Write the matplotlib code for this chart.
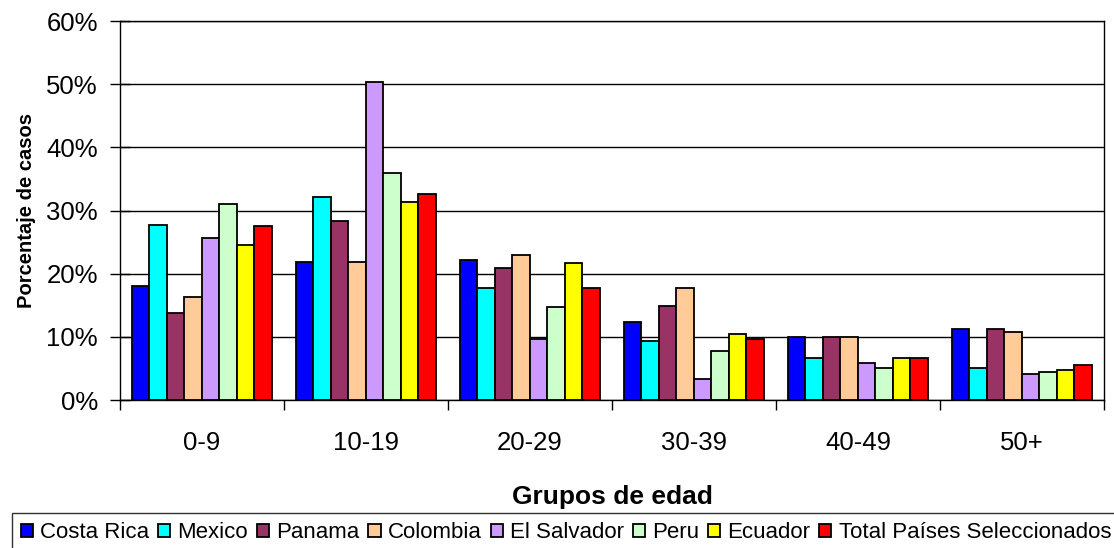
import numpy as np
import matplotlib
matplotlib.use("Agg")
import matplotlib.pyplot as plt
from matplotlib.ticker import FuncFormatter

plt.rcParams['font.family'] = ['Liberation Sans', 'DejaVu Sans']

groups = ['0-9', '10-19', '20-29', '30-39', '40-49', '50+']
series = ['Costa Rica', 'Mexico', 'Panama', 'Colombia', 'El Salvador',
          'Peru', 'Ecuador', 'Total Países Seleccionados']
colors = ['#0000FF', '#00FFFF', '#993366', '#FFCC99', '#CC99FF',
          '#CCFFCC', '#FFFF00', '#FF0000']

costa_rica = [18.1, 21.9, 22.2, 12.3, 10.0, 11.3]
mexico = [27.8, 32.1, 17.7, 9.3, 6.6, 5.0]
panama = [13.8, 28.3, 20.9, 14.9, 10.0, 11.3]
colombia = [16.3, 21.8, 23.0, 17.7, 10.0, 10.8]
el_salvador = [25.6, 50.4, 9.6, 3.4, 5.9, 4.2]
peru = [31.1, 35.9, 14.7, 7.7, 5.0, 4.5]
ecuador = [24.5, 31.3, 21.7, 10.4, 6.6, 4.8]
total = [27.5, 32.7, 17.7, 9.6, 6.6, 5.6]

values = [costa_rica, mexico, panama, colombia, el_salvador, peru, ecuador, total]

fig = plt.figure(figsize=(11.14, 5.48), dpi=100)
ax = fig.add_axes([0.1077, 0.270, 0.8833, 0.6913])

x = np.arange(len(groups))
n = len(series)
w = 0.854 / n
for i, (name, vals) in enumerate(zip(series, values)):
    ax.bar(x - 0.427 + w * (i + 0.5), vals, width=w, color=colors[i],
           edgecolor='black', linewidth=1.3, label=name, zorder=3)

ax.set_xlim(-0.5, len(groups) - 0.5)
ax.set_ylim(0, 60)
ax.set_yticks(np.arange(0, 61, 10))
ax.yaxis.set_major_formatter(FuncFormatter(lambda v, p: '%d%%' % v))
ax.grid(axis='y', color='black', linewidth=1, zorder=0)

# category ticks sit on the boundaries, labels at the centres
ax.set_xticks(np.arange(-0.5, len(groups), 1))
ax.set_xticklabels([])
ax.set_xticks(x, minor=True)
ax.set_xticklabels(groups, minor=True, fontsize=18.5)
ax.tick_params(axis='x', which='minor', length=0, pad=22)
ax.tick_params(axis='x', which='major', length=7, width=1, direction='out')
ax.tick_params(axis='y', labelsize=18.5, length=14, width=1, direction='inout', pad=9)

for s in ax.spines.values():
    s.set_color('black')
    s.set_linewidth(1)

ax.set_xlabel('Grupos de edad', fontsize=19, fontweight='bold', labelpad=22)
ax.set_ylabel('Porcentaje de casos', fontsize=14.5, fontweight='bold', labelpad=7)

leg = fig.legend(loc='upper center', bbox_to_anchor=(0.508, 0.063), ncol=n,
                 fontsize=16, frameon=True, fancybox=False, edgecolor='black',
                 handlelength=0.55, handleheight=0.55, handletextpad=0.32,
                 columnspacing=0.4, borderpad=0.4, borderaxespad=0)
leg.get_frame().set_linewidth(1)

fig.savefig('out.png', dpi=100)
